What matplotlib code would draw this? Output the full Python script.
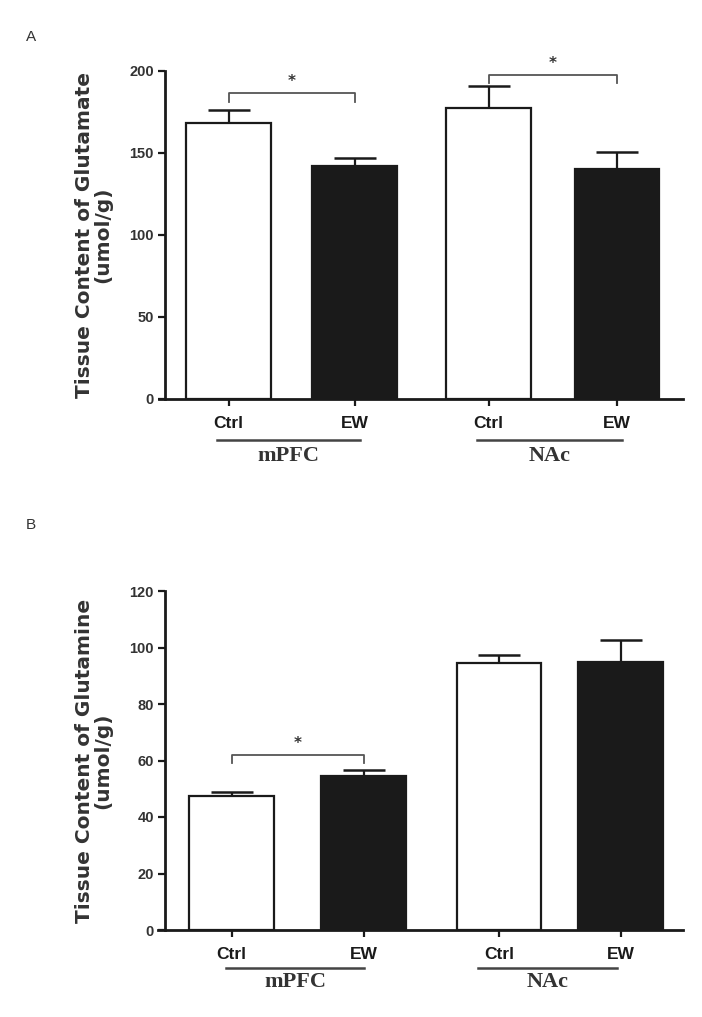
import matplotlib.pyplot as plt

GROUPS = ["mPFC", "NAc"]
CONDITIONS = ["Ctrl", "EW"]

# panel A: glutamate
glutamate_means = [168.5, 142, 177.5, 140]
glutamate_sem = [7.7, 5, 13.3, 10.4]

# panel B: glutamine
glutamine_means = [47.5, 54.5, 94.6, 95]
glutamine_sem = [1.4, 2.1, 2.7, 7.6]

POS_A = [0, 1, 2.064, 3.083]
POS_B = [0, 1, 2.027, 2.947]

SANS = "Liberation Sans"
SERIF = "Liberation Serif"
INK = "#1a1a1a"
TXT = "#333333"


def panel(fig, rect, pos, means, sem, ymax, ystep, ylabel, brackets, xlim,
          width, line_off, line_y, label_y):
    ax = fig.add_axes(rect)
    colors = ["white", INK, "white", INK]
    ax.bar(pos, means, width=width, color=colors, edgecolor=INK, linewidth=1.6, zorder=2)
    ax.errorbar(pos, means, yerr=[[0] * len(sem), sem], fmt="none", ecolor=INK,
                elinewidth=1.6, capsize=15, capthick=1.8, zorder=1)

    ax.set_xlim(*xlim)
    ax.set_ylim(0, ymax)
    ax.set_yticks(range(0, ymax + 1, ystep))
    ax.set_xticks(pos)
    ax.set_xticklabels(CONDITIONS * 2, fontfamily=SANS, fontweight="bold", fontsize=12.5, color=TXT)
    ax.tick_params(axis="y", labelsize=10.5, width=1.6, length=5, colors=INK, labelcolor=TXT, pad=3)
    ax.tick_params(axis="x", width=1.6, length=5, colors=INK, pad=7)
    for lab in ax.get_yticklabels():
        lab.set_fontfamily(SANS)
        lab.set_fontweight("bold")
    for side in ("top", "right"):
        ax.spines[side].set_visible(False)
    for side in ("left", "bottom"):
        ax.spines[side].set_linewidth(2)
        ax.spines[side].set_color(INK)
    ax.spines["bottom"].set_bounds(xlim[0] - 0.05, xlim[1])

    # y label, two lines, bold and wide
    bbox = ax.get_position()
    fig.text(94 / 702, (bbox.y0 + bbox.y1) / 2, ylabel, rotation=90, ha="center", va="center",
             fontfamily="DejaVu Sans", fontweight="bold", fontsize=14.5, color=TXT,
             linespacing=0.95, multialignment="center")

    # significance brackets
    for i, j, y in brackets:
        tick = ymax * 0.025
        ax.plot([pos[i], pos[i], pos[j], pos[j]], [y - tick, y, y, y - tick],
                color="#555555", lw=1.3, clip_on=False)
        ax.text((pos[i] + pos[j]) / 2, y + ymax * 0.012, "*", ha="center", va="bottom",
                fontsize=11, fontweight="bold", color=TXT)

    # group underlines and labels
    trans = ax.get_xaxis_transform()
    for g, name in enumerate(GROUPS):
        x0 = pos[2 * g] + line_off[g][0]
        x1 = pos[2 * g + 1] + line_off[g][1]
        ax.plot([x0, x1], [line_y, line_y], transform=trans, color="#444444", lw=1.8, clip_on=False)
        ax.text((x0 + x1) / 2, label_y, name, transform=trans, ha="center", va="center",
                fontfamily=SERIF, fontweight="bold", fontsize=16, color=TXT)
    return ax


fig = plt.figure(figsize=(7.02, 10.17), dpi=100)

# A: y-axis 0 at 399 px, 200 at 71 px
panel(fig, [165 / 702, 1 - 399 / 1017, 518 / 702, 328 / 1017], POS_A,
      glutamate_means, glutamate_sem, 200, 50,
      "Tissue Content of Glutamate\n(umol/g)", [(0, 1, 186.4), (2, 3, 197.5)],
      (-0.504, 3.607), 0.67, [(-0.09, 0.04), (-0.09, 0.04)], -0.125, -0.174)

# B: y-axis 0 at 930 px, 120 at 591 px
panel(fig, [165 / 702, 1 - 930 / 1017, 518 / 702, 339 / 1017], POS_B,
      glutamine_means, glutamine_sem, 120, 20,
      "Tissue Content of Glutamine\n(umol/g)", [(0, 1, 62)],
      (-0.504, 3.42), 0.64, [(-0.04, 0.0), (-0.16, -0.03)], -0.112, -0.153)

fig.text(31 / 702, 1 - 37 / 1017, "A", ha="center", va="center", fontfamily=SANS,
         fontsize=11, color=TXT)
fig.text(31 / 702, 1 - 525 / 1017, "B", ha="center", va="center", fontfamily=SANS,
         fontsize=11, color=TXT)

fig.savefig("out.png", dpi=100, facecolor="white")
